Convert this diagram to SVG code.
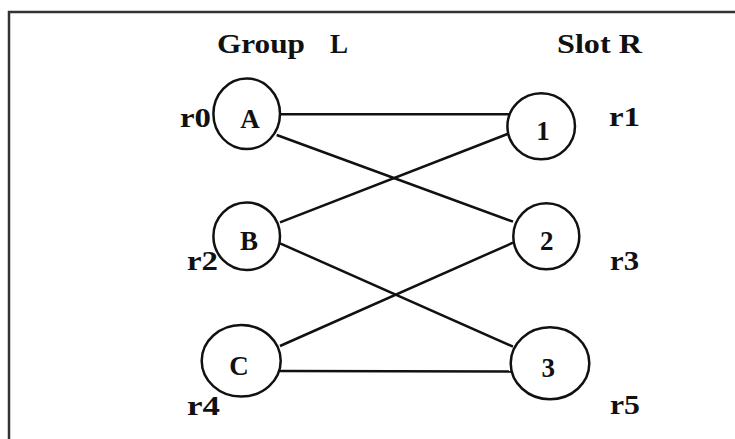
<svg xmlns="http://www.w3.org/2000/svg" width="735" height="439" viewBox="0 0 735 439">
<style>
  .t { font-family: "Liberation Serif", "DejaVu Serif", serif; font-weight: bold; font-size: 27px; fill: #111; }
  .n { fill: #fff; stroke: #111; stroke-width: 2.5; }
  .e { stroke: #111; stroke-width: 2.5; fill: none; }
</style>
<rect width="735" height="439" fill="#fff"/>
<path d="M9,439 V12 H735" fill="none" stroke="#333" stroke-width="2.5"/>
<g id="headers">
  <text class="t" x="217" y="53" textLength="88" lengthAdjust="spacingAndGlyphs">Group</text>
  <text class="t" x="330" y="53">L</text>
  <text class="t" x="557" y="53" textLength="85" lengthAdjust="spacingAndGlyphs">Slot R</text>
</g>
<g id="connectors">
  <line class="e" x1="280" y1="114.3" x2="510" y2="114.3"/>
  <line class="e" x1="276.7" y1="135" x2="513" y2="221.7"/>
  <line class="e" x1="280" y1="222.3" x2="507.5" y2="134"/>
  <line class="e" x1="280" y1="243.3" x2="513" y2="346.7"/>
  <line class="e" x1="280" y1="346" x2="513" y2="242.7"/>
  <line class="e" x1="280" y1="371" x2="511" y2="371.5"/>
</g>
<g id="node-A">
  <ellipse class="n" cx="246.7" cy="113.8" rx="33.3" ry="35.3"/>
  <text class="t" x="250" y="128" text-anchor="middle">A</text>
  <text class="t" x="180" y="127" textLength="31" lengthAdjust="spacingAndGlyphs">r0</text>
</g>
<g id="node-B">
  <ellipse class="n" cx="246.7" cy="236.3" rx="33.3" ry="33.7"/>
  <text class="t" x="249" y="250" text-anchor="middle">B</text>
  <text class="t" x="187" y="270" textLength="31" lengthAdjust="spacingAndGlyphs">r2</text>
</g>
<g id="node-C">
  <ellipse class="n" cx="241.2" cy="360.8" rx="39.5" ry="35.8"/>
  <text class="t" x="239" y="375" text-anchor="middle">C</text>
  <text class="t" x="187" y="415" textLength="33" lengthAdjust="spacingAndGlyphs">r4</text>
</g>
<g id="node-1">
  <ellipse class="n" cx="541.2" cy="126.3" rx="33.8" ry="33"/>
  <text class="t" x="543" y="140" text-anchor="middle">1</text>
  <text class="t" x="609" y="126" textLength="31" lengthAdjust="spacingAndGlyphs">r1</text>
</g>
<g id="node-2">
  <ellipse class="n" cx="546.3" cy="236.3" rx="33" ry="33"/>
  <text class="t" x="546.7" y="250" text-anchor="middle">2</text>
  <text class="t" x="610" y="270" textLength="29" lengthAdjust="spacingAndGlyphs">r3</text>
</g>
<g id="node-3">
  <ellipse class="n" cx="550" cy="363.3" rx="39.3" ry="36"/>
  <text class="t" x="548.3" y="376.5" text-anchor="middle">3</text>
  <text class="t" x="610" y="414" textLength="30" lengthAdjust="spacingAndGlyphs">r5</text>
</g>
</svg>
